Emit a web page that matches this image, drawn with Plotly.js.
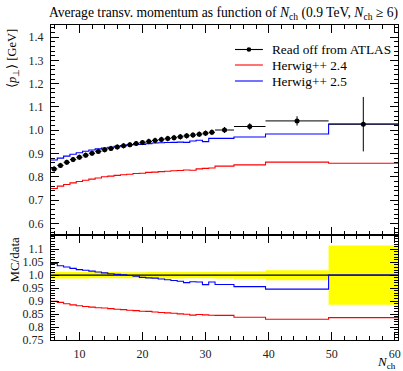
<!DOCTYPE html>
<html><head><meta charset="utf-8">
<script src="https://cdn.plot.ly/plotly-3.0.1.min.js"></script>
<style>html,body{margin:0;padding:0;background:#fff}</style>
</head><body><div id="plot" style="width:403px;height:371px"></div>
<script>
// Bin edges in N_ch
const binEdges = [5.5,6.5,7.5,8.5,9.5,10.5,11.5,12.5,13.5,14.5,15.5,16.5,17.5,18.5,19.5,20.5,
  21.5,22.5,23.5,24.5,25.5,26.5,27.5,28.5,29.5,30.5,31.5,34.5,39.5,49.5,60.5];
// ATLAS data <pT> [GeV]
const dataVals = [0.834,0.849,0.862,0.874,0.884,0.893,0.901,0.909,0.916,0.922,0.928,0.933,0.938,0.943,0.947,
  0.952,0.956,0.960,0.964,0.968,0.972,0.976,0.979,0.983,0.987,0.991,1.001,1.016,1.040,1.026];
const dataErr = [0.011,0.011,0.011,0.011,0.011,0.011,0.011,0.011,0.011,0.011,0.011,0.011,0.011,0.011,0.011,
  0.012,0.012,0.012,0.012,0.012,0.012,0.012,0.012,0.012,0.012,0.012,0.013,0.014,0.020,0.117];
// Herwig++ 2.4
const herwig24 = [0.750,0.760,0.767,0.774,0.780,0.785,0.790,0.795,0.800,0.803,0.806,0.809,0.811,0.814,0.815,
  0.819,0.820,0.822,0.824,0.826,0.827,0.829,0.828,0.834,0.836,0.838,0.846,0.851,0.863,0.858];
// Herwig++ 2.5
const herwig25 = [0.872,0.880,0.889,0.897,0.903,0.910,0.915,0.920,0.924,0.927,0.931,0.934,0.937,0.939,0.939,
  0.942,0.945,0.946,0.947,0.948,0.949,0.948,0.954,0.957,0.951,0.965,0.965,0.971,0.984,1.027];

const legendNames = ["Read off from ATLAS","Herwig++ 2.4","Herwig++ 2.5"];
const xTicks = [10,20,30,40,50,60];
const yTopTicks = [0.6,0.7,0.8,0.9,1.0,1.1,1.2,1.3,1.4];
const yRatioTicks = [0.75,0.8,0.85,0.9,0.95,1.0,1.05,1.1];
const yRatioLabels = ['0.75','0.8','0.85','0.9','0.95','1.0','1.05','1.1'];
const colors = {data:"#000000", h24:"#ff0000", h25:"#0000ff", band:"#ffff00"};

const nb = dataVals.length;
const centers = [], halfW = [];
for (let i=0;i<nb;i++){ centers.push((binEdges[i]+binEdges[i+1])/2); halfW.push((binEdges[i+1]-binEdges[i])/2); }
function stepY(v){ return v.concat([v[v.length-1]]); }
const r24 = herwig24.map((v,i)=>v/dataVals[i]);
const r25 = herwig25.map((v,i)=>v/dataVals[i]);
const bandLo = dataErr.map((e,i)=>1-e/dataVals[i]);
const bandHi = dataErr.map((e,i)=>1+e/dataVals[i]);
const ones = dataVals.map(()=>1);

const FONT = "Liberation Serif";
const traces = [
  {x:binEdges, y:stepY(herwig24), xaxis:'x2', yaxis:'y2', mode:'lines', line:{shape:'hv', color:colors.h24, width:1.1}, hoverinfo:'skip'},
  {x:binEdges, y:stepY(herwig25), xaxis:'x2', yaxis:'y2', mode:'lines', line:{shape:'hv', color:colors.h25, width:1.1}, hoverinfo:'skip'},
  {x:centers, y:dataVals, xaxis:'x2', yaxis:'y2', mode:'markers', marker:{color:'#000', size:5, symbol:'circle'},
    error_y:{type:'data', array:dataErr, color:'#000', thickness:1, width:0},
    error_x:{type:'data', array:halfW, color:'#000', thickness:1, width:0}},
  {x:binEdges, y:stepY(bandLo), xaxis:'x', yaxis:'y', mode:'lines', line:{shape:'hv', width:0, color:colors.band}, hoverinfo:'skip'},
  {x:binEdges, y:stepY(bandHi), xaxis:'x', yaxis:'y', mode:'lines', line:{shape:'hv', width:0, color:colors.band}, fill:'tonexty', fillcolor:colors.band, hoverinfo:'skip'},
  {x:binEdges, y:stepY(ones), xaxis:'x', yaxis:'y', mode:'lines', line:{shape:'hv', color:'#000', width:1.2}, hoverinfo:'skip'},
  {x:binEdges, y:stepY(r24), xaxis:'x', yaxis:'y', mode:'lines', line:{shape:'hv', color:colors.h24, width:1.1}, hoverinfo:'skip'},
  {x:binEdges, y:stepY(r25), xaxis:'x', yaxis:'y', mode:'lines', line:{shape:'hv', color:colors.h25, width:1.1}, hoverinfo:'skip'}
];

const W=403,H=371, L=50.5, R=398.5, T=25, B=340;
const pw=R-L, ph=B-T;
const px = v=>(v-L)/pw, py = v=>(B-v)/ph;
const split = py(235);

function axBase(extra){
  return Object.assign({showline:true, linecolor:'#000', linewidth:1, mirror:'allticks', ticks:'inside', ticklen:8, tickwidth:1, tickcolor:'#000',
    showgrid:false, zeroline:false, tickfont:{family:FONT, size:12, color:'#222'}}, extra);
}

const legY = [py(49.5), py(65), py(81)];
const legCol = ['#000', colors.h24, colors.h25];
const shapes = [], annotations = [];
for (let i=0;i<3;i++){
  shapes.push({type:'line', xref:'paper', yref:'paper', x0:px(235), x1:px(263), y0:legY[i], y1:legY[i], line:{color:legCol[i], width:1.1}});
  annotations.push({xref:'paper', yref:'paper', x:px(270), y:legY[i], xanchor:'left', yanchor:'middle', showarrow:false,
    text:legendNames[i], font:{family:FONT, size:13.3, color:'#000'}});
}
shapes.push({type:'circle', xref:'paper', yref:'paper', x0:px(246.7), x1:px(251.3), y0:legY[0]-2.3/ph, y1:legY[0]+2.3/ph, fillcolor:'#000', line:{color:'#000', width:0}});

annotations.push({xref:'paper', yref:'paper', x:px(13), y:1-2/ph, xanchor:'center', yanchor:'top', textangle:-90, showarrow:false,
  text:'⟨<i>p</i><sub>⊥</sub>⟩ [GeV]', font:{family:FONT, size:12.5, color:'#000'}});
annotations.push({xref:'paper', yref:'paper', x:px(13), y:split, xanchor:'center', yanchor:'top', textangle:-90, showarrow:false,
  text:'MC/data', font:{family:FONT, size:13, color:'#000'}});
annotations.push({xref:'paper', yref:'paper', x:1, y:py(362), xanchor:'right', yanchor:'middle', showarrow:false,
  text:'<i>N</i><sub>ch</sub>', font:{family:FONT, size:13, color:'#000'}});

const layout = {
  width:W, height:H, margin:{l:L, r:W-R, t:T, b:H-B, pad:0},
  font:{family:FONT, size:12, color:'#000'},
  paper_bgcolor:'#fff', plot_bgcolor:'#fff', showlegend:false,
  title:{text:'Average transv. momentum as function of <i>N</i><sub>ch</sub> (0.9 TeV, <i>N</i><sub>ch</sub> ≥ 6)',
    x:1, xref:'paper', xanchor:'right', y:1-12/H, yanchor:'middle', font:{family:FONT, size:13.6, color:'#000'}},
  xaxis:axBase({anchor:'y', range:[5.5,60.5], tickvals:xTicks, ticklabelstandoff:3,
    minor:{dtick:2, tick0:0, ticks:'inside', ticklen:4, tickcolor:'#000'}}),
  xaxis2:axBase({anchor:'y2', matches:'x', range:[5.5,60.5], tickvals:xTicks, showticklabels:false,
    minor:{dtick:2, tick0:0, ticks:'inside', ticklen:4, tickcolor:'#000'}}),
  yaxis:axBase({domain:[0, split], range:[0.75,1.155], anchor:'x',
    tickvals:yRatioTicks, ticktext:yRatioLabels, ticklabelstandoff:4,
    minor:{dtick:0.01, tick0:0, ticks:'inside', ticklen:4, tickcolor:'#000'}}),
  yaxis2:axBase({domain:[split, 1], range:[0.55,1.452], anchor:'x2',
    tickvals:yTopTicks, tickformat:'.1f', ticklabelstandoff:4,
    minor:{dtick:0.02, tick0:0, ticks:'inside', ticklen:4, tickcolor:'#000'}}),
  shapes:shapes, annotations:annotations
};
Plotly.newPlot('plot', traces, layout, {staticPlot:true, displayModeBar:false});
</script></body></html>
